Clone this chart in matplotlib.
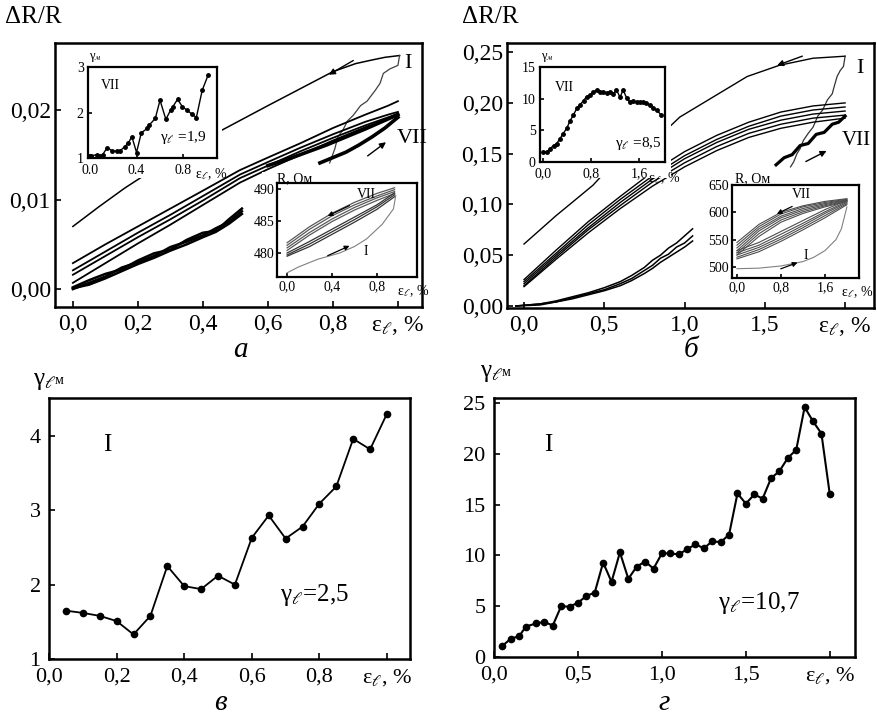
import matplotlib
matplotlib.use('Agg')
import matplotlib.pyplot as plt
from matplotlib.patches import Rectangle

plt.rcParams['font.family'] = ['Liberation Serif', 'DejaVu Serif']
plt.rcParams['mathtext.fontset'] = 'stix'

# ---------------- data ----------------
# panel a: dR/R vs strain
a_I_unload_x = [1.005, 0.96, 0.92, 0.87, 0.80, 0.70, 0.60, 0.45, 0.30, 0.16, 0.08, 0.0]
a_I_unload_y = [0.0261, 0.0259, 0.0256, 0.0252, 0.0243, 0.0224, 0.0205, 0.0176, 0.0146, 0.0113, 0.0092, 0.0070]
a_I_load_x = [1.005, 1.0, 0.975, 0.955, 0.945, 0.93, 0.905, 0.885, 0.862, 0.845, 0.831, 0.815, 0.806, 0.79]
a_I_load_y = [0.0261, 0.0250, 0.0246, 0.0241, 0.0230, 0.0222, 0.0210, 0.0205, 0.0194, 0.0188, 0.0178, 0.0170, 0.0157, 0.0141]
a_mid_x = [0.0, 0.1, 0.2, 0.3, 0.4, 0.514, 0.6, 0.7, 0.8, 0.9, 0.97, 1.0]
a_mid_y = [
    [0.0029, 0.0050, 0.0070, 0.0090, 0.0110, 0.0133, 0.0147, 0.0163, 0.0180, 0.0195, 0.0205, 0.0210],
    [0.0021, 0.0042, 0.0063, 0.0083, 0.0104, 0.0128, 0.0142, 0.0158, 0.0173, 0.0187, 0.0195, 0.0198],
    [0.0016, 0.0037, 0.0058, 0.0078, 0.0099, 0.0124, 0.0138, 0.0154, 0.0169, 0.0183, 0.0192, 0.0196],
    [0.0007, 0.0029, 0.0051, 0.0072, 0.0094, 0.0119, 0.0134, 0.0150, 0.0166, 0.0181, 0.0190, 0.0194],
]
a_lo_x = [0.0, 0.05, 0.10, 0.15, 0.20, 0.25, 0.30, 0.35, 0.40, 0.44, 0.48, 0.52]
a_lo_y = [
    [0.0000, 0.0007, 0.0014, 0.0024, 0.0030, 0.0037, 0.0047, 0.0053, 0.0060, 0.0068, 0.0075, 0.0087],
    [0.0002, 0.0010, 0.0017, 0.0022, 0.0032, 0.0040, 0.0044, 0.0055, 0.0063, 0.0065, 0.0078, 0.0090],
    [0.0001, 0.0005, 0.0012, 0.0020, 0.0028, 0.0035, 0.0043, 0.0050, 0.0058, 0.0064, 0.0073, 0.0084],
]
a_r1_x = [0.60, 0.66, 0.72, 0.78, 0.84, 0.90, 0.95, 1.0]
a_r1_y = [0.0138, 0.0145, 0.0153, 0.0161, 0.0170, 0.0179, 0.0187, 0.0195]
a_r2_x = [0.76, 0.80, 0.84, 0.88, 0.92, 0.96, 1.0]
a_r2_y = [0.0141, 0.0147, 0.0153, 0.0161, 0.0170, 0.0180, 0.0192]

# inset a1: gamma_m of cycle VII
a_g_x = [0.0, 0.01, 0.06, 0.09, 0.11, 0.15, 0.19, 0.23, 0.26, 0.30, 0.33, 0.36, 0.40, 0.44,
         0.49, 0.51, 0.56, 0.60, 0.65, 0.69, 0.71, 0.75, 0.79, 0.83, 0.87, 0.91, 0.96, 1.01]
a_g_y = [1.04, 1.05, 1.07, 1.05, 1.07, 1.23, 1.16, 1.15, 1.16, 1.25, 1.33, 1.47, 1.12, 1.55,
         1.65, 1.73, 1.87, 2.27, 1.85, 2.05, 2.13, 2.29, 2.13, 2.05, 1.97, 1.89, 2.49, 2.82]

# inset a2: R (Ohm) loops
ra_x = [0.0, 0.2, 0.4, 0.6, 0.8, 0.96]
ra_unload = [
    [481.6, 484.1, 486.2, 487.9, 489.3, 490.2],
    [481.2, 483.7, 485.8, 487.5, 488.9, 489.9],
    [480.8, 483.2, 485.3, 487.1, 488.6, 489.6],
    [480.4, 482.8, 484.9, 486.7, 488.2, 489.3],
]
ra_load = [
    [480.0, 481.8, 483.7, 485.6, 487.5, 489.4],
    [479.7, 481.4, 483.3, 485.2, 487.2, 489.1],
    [479.5, 481.0, 482.9, 484.8, 486.8, 488.8],
]
ra_I_x = [0.0, 0.1, 0.27, 0.47, 0.6, 0.71, 0.85, 0.95, 0.97]
ra_I_y = [476.9, 477.8, 479.0, 480.0, 481.0, 482.2, 484.5, 486.9, 489.0]

# panel b
b_I_unload_x = [2.0, 1.9, 1.80, 1.59, 1.39, 1.18, 0.97, 0.91, 0.80, 0.70, 0.60, 0.50, 0.43, 0.30, 0.20, 0.10, 0.0]
b_I_unload_y = [0.246, 0.245, 0.244, 0.237, 0.226, 0.206, 0.186, 0.177, 0.165, 0.154, 0.143, 0.131, 0.119, 0.102, 0.089, 0.075, 0.061]
b_I_load_x = [2.0, 1.99, 1.97, 1.95, 1.93, 1.92, 1.89, 1.86, 1.83, 1.80, 1.77, 1.74, 1.72, 1.70, 1.68, 1.66]
b_I_load_y = [0.246, 0.236, 0.232, 0.226, 0.215, 0.209, 0.203, 0.193, 0.187, 0.176, 0.170, 0.163, 0.155, 0.150, 0.142, 0.137]
b_mid_x = [0.0, 0.2, 0.4, 0.6, 0.8, 1.0, 1.2, 1.4, 1.6, 1.8, 2.0]
b_mid_y = [
    [0.026, 0.055, 0.083, 0.108, 0.132, 0.152, 0.168, 0.181, 0.191, 0.197, 0.200],
    [0.024, 0.052, 0.080, 0.105, 0.128, 0.148, 0.164, 0.177, 0.187, 0.193, 0.196],
    [0.022, 0.050, 0.077, 0.102, 0.125, 0.145, 0.161, 0.174, 0.183, 0.189, 0.192],
    [0.020, 0.048, 0.075, 0.099, 0.122, 0.141, 0.157, 0.170, 0.179, 0.185, 0.188],
    [0.019, 0.046, 0.072, 0.096, 0.118, 0.137, 0.153, 0.166, 0.175, 0.181, 0.185],
]
b_vii_x = [1.57, 1.62, 1.67, 1.72, 1.77, 1.82, 1.87, 1.92, 1.96, 2.0]
b_vii_y = [0.139, 0.146, 0.149, 0.158, 0.160, 0.169, 0.171, 0.179, 0.181, 0.187]
b_lo_x = [-0.05, 0.1, 0.2, 0.3, 0.4, 0.5, 0.6, 0.67, 0.75, 0.8, 0.85, 0.9, 0.95, 1.0, 1.05]
b_lo_y = [
    [0.000, 0.002, 0.005, 0.009, 0.013, 0.018, 0.024, 0.030, 0.038, 0.045, 0.050, 0.057, 0.062, 0.069, 0.076],
    [0.000, 0.002, 0.004, 0.008, 0.012, 0.016, 0.022, 0.027, 0.035, 0.040, 0.047, 0.051, 0.058, 0.062, 0.069],
    [0.000, 0.001, 0.004, 0.007, 0.011, 0.015, 0.020, 0.025, 0.032, 0.037, 0.043, 0.048, 0.053, 0.058, 0.064],
]

# inset b1: gamma_m of cycle VII
b_g_x = [0.0, 0.06, 0.11, 0.17, 0.22, 0.28, 0.33, 0.39, 0.44, 0.50, 0.56, 0.61, 0.67, 0.72, 0.78, 0.83,
         0.89, 0.94, 1.0, 1.06, 1.11, 1.17, 1.22, 1.28, 1.33, 1.39, 1.44, 1.5, 1.56, 1.61, 1.67, 1.72,
         1.78, 1.83, 1.89, 1.97]
b_g_y = [1.6, 1.6, 2.1, 2.6, 2.9, 3.7, 4.5, 5.3, 6.4, 7.4, 8.5, 9.0, 9.7, 10.3, 10.6, 11.1,
         11.3, 11.0, 11.1, 10.9, 11.1, 10.8, 11.4, 10.2, 11.4, 10.1, 9.5, 9.7, 9.4, 9.5, 9.5, 9.3,
         9.0, 8.5, 8.2, 7.4]

# inset b2: R (Ohm) loops
rb_x = [0.0, 0.4, 0.8, 1.2, 1.6, 2.0]
rb_unload = [
    [545, 578, 600, 612, 620, 625],
    [540, 574, 597, 610, 618, 624],
    [535, 570, 593, 607, 616, 623],
    [530, 566, 590, 604, 614, 622],
    [526, 561, 586, 601, 612, 621],
    [522, 556, 582, 598, 610, 620],
]
rb_load = [
    [530, 545, 565, 585, 605, 622],
    [526, 540, 560, 580, 601, 620],
    [522, 536, 555, 576, 598, 618],
    [518, 532, 551, 572, 594, 616],
    [515, 528, 547, 568, 590, 614],
]
rb_I_x = [0.0, 0.4, 0.8, 1.2, 1.4, 1.6, 1.8, 1.9, 2.0]
rb_I_y = [497, 498, 502, 510, 518, 530, 550, 570, 610]

# panel v: gamma_m of cycle I
v_x = [0.05, 0.10, 0.15, 0.20, 0.25, 0.30, 0.35, 0.40, 0.45, 0.50,
       0.55, 0.60, 0.65, 0.70, 0.75, 0.80, 0.85, 0.90, 0.95, 1.00]
v_y = [1.65, 1.62, 1.58, 1.51, 1.33, 1.58, 2.25, 1.98, 1.94, 2.12,
       2.00, 2.63, 2.93, 2.62, 2.78, 3.09, 3.32, 3.96, 3.82, 4.30]

# panel g: gamma_m of cycle I
g_x = [0.05, 0.10, 0.15, 0.19, 0.25, 0.30, 0.35, 0.40, 0.45, 0.50, 0.55, 0.60, 0.65, 0.70,
       0.75, 0.80, 0.85, 0.90, 0.95, 1.00, 1.05, 1.10, 1.15, 1.20, 1.25, 1.30, 1.35, 1.40,
       1.45, 1.50, 1.55, 1.60, 1.65, 1.70, 1.75, 1.80, 1.85, 1.90, 1.95, 2.00]
g_y = [1.1, 1.8, 2.05, 3.0, 3.3, 3.45, 3.1, 5.0, 4.95, 5.35, 6.0, 6.35, 9.3, 7.4,
       10.3, 7.7, 8.9, 9.4, 8.7, 10.2, 10.2, 10.1, 10.6, 11.1, 10.7, 11.4, 11.3, 12.05,
       16.1, 15.1, 16.0, 15.6, 17.6, 18.3, 19.6, 20.4, 24.6, 23.2, 22.0, 16.0]

eps_lbl = r'ε$_\ell$, %'
W, H = 877, 718


def fig_rect(px0, py0, px1, py1):
    return [px0 / W, 1 - py1 / H, (px1 - px0) / W, (py1 - py0) / H]


def style_axes(ax, size, lw=1.8):
    for s in ax.spines.values():
        s.set_linewidth(lw)
    ax.tick_params(direction='in', length=4, width=1.2, labelsize=size,
                   top=False, right=False)


def white_patch(fig, px0, py0, px1, py1):
    fig.patches.append(Rectangle((px0 / W, 1 - py1 / H), (px1 - px0) / W, (py1 - py0) / H,
                                 transform=fig.transFigure, facecolor='white',
                                 edgecolor='none', zorder=0.5))


fig = plt.figure(figsize=(8.77, 7.18), dpi=100)

# ================= panel a =================
ax = fig.add_axes(fig_rect(55, 43, 422, 307))
ax.plot(a_I_unload_x, a_I_unload_y, color='k', lw=1.1)
ax.plot(a_I_load_x, a_I_load_y, color='0.25', lw=0.9)
for yy in a_mid_y:
    ax.plot(a_mid_x, yy, color='k', lw=1.3)
for yy in a_lo_y:
    ax.plot(a_lo_x, yy, color='k', lw=1.8)
ax.plot(a_r1_x, a_r1_y, color='k', lw=2.6)
ax.plot(a_r2_x, a_r2_y, color='k', lw=2.6)
ax.annotate('', xy=(0.78, 0.0238), xytext=(0.87, 0.0257),
            arrowprops=dict(arrowstyle='-|>', color='k', lw=1.0, mutation_scale=9))
ax.annotate('', xy=(0.97, 0.0166), xytext=(0.90, 0.0147),
            arrowprops=dict(arrowstyle='-|>', color='k', lw=1.0, mutation_scale=9))
ax.text(1.02, 0.0252, 'I', fontsize=16, va='center')
ax.text(0.995, 0.0168, 'VII', fontsize=16, va='center')
ax.set_xlim(-0.055, 1.074)
ax.set_ylim(-0.002, 0.0275)
ax.set_xticks([0.0, 0.2, 0.4, 0.6, 0.8, 1.0])
ax.set_xticklabels(['0,0', '0,2', '0,4', '0,6', '0,8', eps_lbl])
ax.set_yticks([0.0, 0.01, 0.02])
ax.set_yticklabels(['0,00', '0,01', '0,02'])
style_axes(ax, 17)
ax.tick_params(axis='x', pad=5)
ax.tick_params(axis='y', pad=3)
fig.text(5 / W, 1 - 6 / H, 'ΔR/R', fontsize=18, va='top')
fig.text(240 / W, 1 - 350 / H, 'а', fontsize=21, style='italic', ha='center', va='center')

# inset a1
white_patch(fig, 76, 50, 222, 178)
ia = fig.add_axes(fig_rect(88, 67, 217, 158))
ia.set_zorder(1)
ia.plot(a_g_x, a_g_y, color='k', lw=1.0, marker='o', ms=2.5)
ia.set_xlim(-0.014, 1.086)
ia.set_ylim(1, 3)
ia.set_xticks([0.0, 0.4, 0.8])
ia.set_xticklabels(['0.0', '0.4', '0.8'])
ia.set_yticks([1, 2, 3])
style_axes(ia, 10, lw=1.6)
ia.tick_params(length=3)
ia.tick_params(axis='x', pad=4)
ia.tick_params(axis='y', pad=3)
ia.text(0.1, 0.8, 'VII', transform=ia.transAxes, fontsize=10, va='center')
ia.text(0.56, 0.23, r'γ$_\ell$ =1,9', transform=ia.transAxes, fontsize=11, va='center')
ia.text(0.83, -0.18, eps_lbl, transform=ia.transAxes, fontsize=10, va='center')
fig.text(89 / W, 1 - 51 / H, r'γ$_м$', fontsize=9, va='top')

# inset a2
white_patch(fig, 262, 172, 421, 293)
ib = fig.add_axes(fig_rect(277, 183, 417, 277))
ib.set_zorder(1)
for yy in ra_unload:
    ib.plot(ra_x, yy, color='0.35', lw=0.9)
for yy in ra_load:
    ib.plot(ra_x, yy, color='0.2', lw=0.9)
ib.plot(ra_I_x, ra_I_y, color='0.5', lw=0.8)
ib.annotate('', xy=(0.34, 485.6), xytext=(0.58, 487.6),
            arrowprops=dict(arrowstyle='-|>', color='k', lw=0.9, mutation_scale=7))
ib.annotate('', xy=(0.58, 481.3), xytext=(0.34, 479.4),
            arrowprops=dict(arrowstyle='-|>', color='k', lw=0.9, mutation_scale=7))
ib.text(0.62, 489.2, 'VII', fontsize=10, va='center')
ib.text(0.68, 480.3, 'I', fontsize=10, va='center')
ib.set_xlim(-0.09, 1.16)
ib.set_ylim(476.25, 490.94)
ib.set_xticks([0.0, 0.4, 0.8])
ib.set_xticklabels(['0,0', '0,4', '0,8'])
ib.set_yticks([480, 485, 490])
style_axes(ib, 10, lw=1.6)
ib.tick_params(length=3, pad=2)
ib.text(0.86, -0.15, eps_lbl, transform=ib.transAxes, fontsize=10, va='center')
fig.text(277 / W, 1 - 172 / H, 'R, Ом', fontsize=10, va='top')

# ================= panel b =================
ax = fig.add_axes(fig_rect(507, 43, 874, 308))
ax.plot(b_I_unload_x, b_I_unload_y, color='k', lw=1.0)
ax.plot(b_I_load_x, b_I_load_y, color='0.2', lw=0.9)
for yy in b_mid_y:
    ax.plot(b_mid_x, yy, color='k', lw=1.0)
ax.plot(b_vii_x, b_vii_y, color='k', lw=2.3)
for yy in b_lo_y:
    ax.plot(b_lo_x, yy, color='k', lw=1.1)
ax.annotate('', xy=(1.56, 0.236), xytext=(1.75, 0.247),
            arrowprops=dict(arrowstyle='-|>', color='k', lw=1.0, mutation_scale=9))
ax.annotate('', xy=(1.90, 0.154), xytext=(1.74, 0.141),
            arrowprops=dict(arrowstyle='-|>', color='k', lw=1.0, mutation_scale=9))
ax.text(2.07, 0.234, 'I', fontsize=16, va='center')
ax.text(1.98, 0.163, 'VII', fontsize=15, va='center')
ax.set_xlim(-0.106, 2.18)
ax.set_ylim(-0.002, 0.259)
ax.set_xticks([0.0, 0.5, 1.0, 1.5, 2.0])
ax.set_xticklabels(['0,0', '0,5', '1,0', '1,5', eps_lbl])
ax.set_yticks([0.0, 0.05, 0.10, 0.15, 0.20, 0.25])
ax.set_yticklabels(['0,00', '0,05', '0,10', '0,15', '0,20', '0,25'])
style_axes(ax, 17)
ax.tick_params(axis='x', pad=5)
ax.tick_params(axis='y', pad=3)
fig.text(462 / W, 1 - 6 / H, 'ΔR/R', fontsize=18, va='top')
fig.text(691 / W, 1 - 350 / H, 'б', fontsize=21, style='italic', ha='center', va='center')

# inset b1
white_patch(fig, 526, 50, 671, 178)
ic = fig.add_axes(fig_rect(540, 67, 665, 162))
ic.set_zorder(1)
ic.plot(b_g_x, b_g_y, color='k', lw=1.0, marker='o', ms=2.5)
ic.set_xlim(-0.056, 2.03)
ic.set_ylim(0, 15)
ic.set_xticks([0.0, 0.8, 1.6])
ic.set_xticklabels(['0,0', '0,8', '1,6'])
ic.set_yticks([0, 5, 10, 15])
style_axes(ic, 10, lw=1.6)
ic.tick_params(length=3)
ic.tick_params(axis='x', pad=4)
ic.tick_params(axis='y', pad=3)
ic.text(0.12, 0.78, 'VII', transform=ic.transAxes, fontsize=10, va='center')
ic.text(0.6, 0.2, r'γ$_\ell$ =8,5', transform=ic.transAxes, fontsize=11, va='center')
ic.text(0.86, -0.17, eps_lbl, transform=ic.transAxes, fontsize=10, va='center')
fig.text(541 / W, 1 - 51 / H, r'γ$_м$', fontsize=9, va='top')

# inset b2
white_patch(fig, 713, 172, 872, 293)
idd = fig.add_axes(fig_rect(732, 185, 859, 278))
idd.set_zorder(1)
for yy in rb_unload:
    idd.plot(rb_x, yy, color='0.3', lw=0.8)
for yy in rb_load:
    idd.plot(rb_x, yy, color='0.3', lw=0.8)
idd.plot(rb_I_x, rb_I_y, color='0.5', lw=0.8)
idd.annotate('', xy=(0.68, 595), xytext=(1.05, 613),
             arrowprops=dict(arrowstyle='-|>', color='k', lw=0.9, mutation_scale=7))
idd.annotate('', xy=(1.15, 510), xytext=(0.75, 495),
             arrowprops=dict(arrowstyle='-|>', color='k', lw=0.9, mutation_scale=7))
idd.text(1.0, 632, 'VII', fontsize=10, va='center')
idd.text(1.22, 522, 'I', fontsize=10, va='center')
idd.set_xlim(-0.09, 2.22)
idd.set_ylim(480, 650)
idd.set_xticks([0.0, 0.8, 1.6])
idd.set_xticklabels(['0,0', '0,8', '1,6'])
idd.set_yticks([500, 550, 600, 650])
style_axes(idd, 10, lw=1.6)
idd.tick_params(length=3, pad=2)
idd.text(0.86, -0.15, eps_lbl, transform=idd.transAxes, fontsize=10, va='center')
fig.text(735 / W, 1 - 172 / H, 'R, Ом', fontsize=10, va='top')

# ================= panel v =================
ax = fig.add_axes(fig_rect(49, 398, 410, 659))
ax.plot(v_x, v_y, color='k', lw=1.3, marker='o', ms=4.5)
ax.set_xlim(0.0, 1.068)
ax.set_ylim(1.0, 4.51)
ax.set_xticks([0.0, 0.2, 0.4, 0.6, 0.8, 1.0])
ax.set_xticklabels(['0,0', '0,2', '0,4', '0,6', '0,8', eps_lbl])
ax.set_yticks([1, 2, 3, 4])
style_axes(ax, 16)
ax.tick_params(pad=6)
ax.text(0.15, 0.82, 'I', transform=ax.transAxes, fontsize=18, va='center')
ax.text(0.64, 0.245, r'γ$_\ell$=2,5', transform=ax.transAxes, fontsize=18, va='center')
fig.text(33 / W, 1 - 370 / H, r'γ$_\ell$', fontsize=18, va='top')
fig.text(55 / W, 1 - 374 / H, 'м', fontsize=10, va='top')
fig.text(220 / W, 1 - 703 / H, 'в', fontsize=21, style='italic', ha='center', va='center')

# ================= panel g =================
ax = fig.add_axes(fig_rect(494, 398, 855, 657))
ax.plot(g_x, g_y, color='k', lw=1.5, marker='o', ms=4.5)
ax.set_xlim(0.0, 2.15)
ax.set_ylim(0, 25.5)
ax.set_xticks([0.0, 0.5, 1.0, 1.5, 2.0])
ax.set_xticklabels(['0,0', '0,5', '1,0', '1,5', eps_lbl])
ax.set_yticks([0, 5, 10, 15, 20, 25])
style_axes(ax, 16)
ax.tick_params(pad=6)
ax.text(0.14, 0.82, 'I', transform=ax.transAxes, fontsize=18, va='center')
ax.text(0.62, 0.21, r'γ$_\ell$=10,7', transform=ax.transAxes, fontsize=18, va='center')
fig.text(480 / W, 1 - 362 / H, r'γ$_\ell$', fontsize=18, va='top')
fig.text(502 / W, 1 - 366 / H, 'м', fontsize=10, va='top')
fig.text(664 / W, 1 - 703 / H, 'г', fontsize=21, style='italic', ha='center', va='center')

fig.savefig('out.png', dpi=100, facecolor='white')
